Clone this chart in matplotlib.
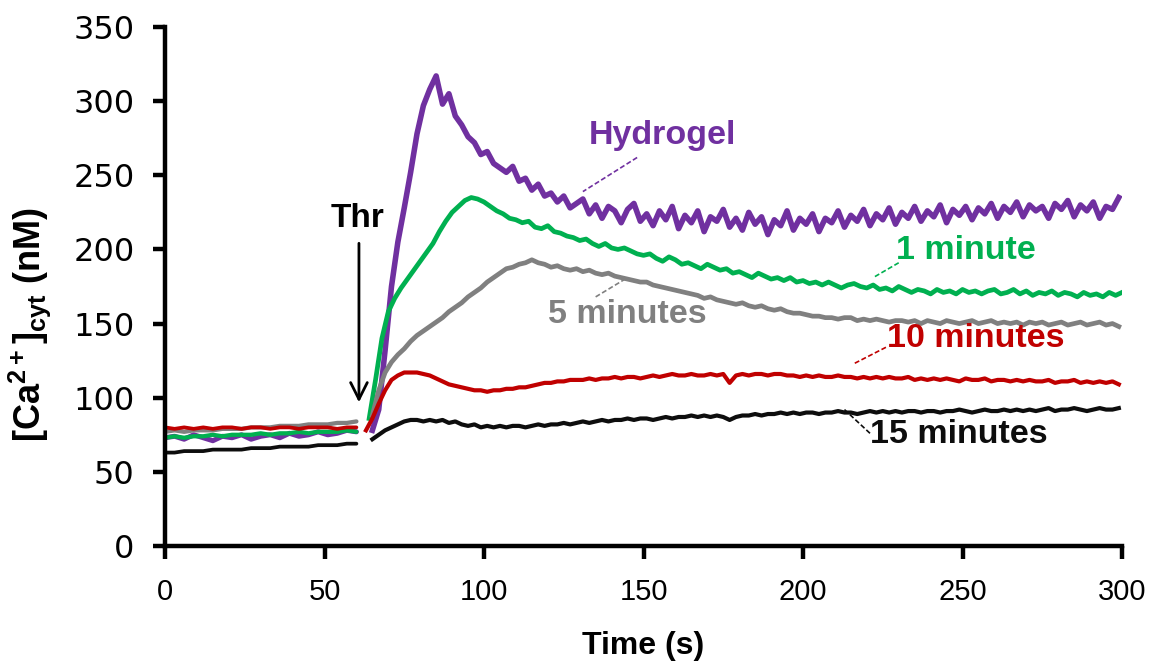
import numpy as np
import matplotlib
matplotlib.use("Agg")
import matplotlib.pyplot as plt

plt.rcParams['mathtext.fontset'] = 'custom'
plt.rcParams['mathtext.bf'] = 'Liberation Sans:bold'
plt.rcParams['mathtext.rm'] = 'Liberation Sans'

# ---------------- data ----------------
series_names = ["Hydrogel", "1 minute", "5 minutes", "10 minutes", "15 minutes"]
colors = ["#7030A0", "#00B050", "#808080", "#C00000", "#0D0D0D"]

# baseline before thrombin, every 3 s from 0 to 60 s
pre_step = 3
hydrogel_pre = [73, 74, 72, 75, 73, 71, 74, 73, 75, 72, 74, 75, 73, 76, 74, 75, 77, 75, 76, 78, 77]
min1_pre = [73, 74, 73, 74, 74, 75, 74, 75, 75, 75, 76, 75, 76, 76, 77, 76, 77, 77, 77, 78, 77]
min5_pre = [77, 78, 77, 78, 78, 78, 79, 79, 79, 80, 80, 80, 81, 81, 81, 82, 82, 82, 83, 83, 84]
min10_pre = [80, 79, 80, 79, 80, 79, 80, 80, 79, 80, 80, 79, 80, 80, 79, 80, 80, 80, 79, 80, 80]
min15_pre = [63, 63, 64, 64, 64, 65, 65, 65, 65, 66, 66, 66, 67, 67, 67, 67, 68, 68, 68, 69, 69]

# after thrombin, every 2 s from the given start time
post_step = 2
hydrogel_start = 65
hydrogel_post = [
    78, 92, 132, 175, 205, 228, 252, 278, 297, 308,
    317, 298, 305, 290, 284, 276, 272, 264, 266, 258,
    255, 252, 256, 246, 248, 240, 244, 236, 238, 232,
    236, 228, 231, 234, 224, 230, 221, 229, 226, 218,
    227, 231, 219, 224, 216, 226, 220, 229, 214, 223,
    218, 226, 212, 222, 219, 227, 215, 221, 213, 225,
    217, 222, 210, 220, 216, 226, 213, 221, 217, 224,
    212, 221, 218, 226, 215, 223, 219, 227, 216, 224,
    220, 228, 217, 225, 221, 229, 219, 226, 222, 230,
    218, 227, 223, 229, 220, 228, 224, 231, 221, 229,
    225, 232, 222, 230, 226, 229, 221, 231, 227, 233,
    222, 230, 226, 232, 221, 229, 227, 235]
min1_start = 64
min1_post = [
    86, 112, 140, 158, 167, 174, 180, 186, 192, 198,
    204, 212, 219, 225, 229, 233, 235, 234, 232, 229,
    226, 224, 221, 220, 218, 219, 215, 214, 216, 212,
    211, 209, 208, 206, 207, 204, 202, 204, 201, 200,
    201, 199, 197, 196, 197, 194, 192, 195, 193, 190,
    191, 189, 187, 190, 188, 186, 187, 184, 185, 183,
    181, 184, 182, 180, 181, 179, 181, 178, 179, 177,
    178, 176, 178, 176, 174, 176, 177, 175, 174, 176,
    173, 174, 172, 175, 173, 171, 173, 172, 170, 173,
    171, 172, 170, 173, 171, 172, 170, 172, 173, 170,
    171, 173, 170, 172, 169, 171, 170, 172, 169, 171,
    170, 168, 171, 169, 170, 168, 171, 169, 171]
min5_start = 65
min5_post = [
    88, 105, 117, 124, 129, 133, 138, 142, 145, 148,
    151, 154, 158, 161, 164, 168, 171, 174, 178, 181,
    184, 187, 188, 190, 191, 193, 191, 190, 188, 189,
    187, 186, 187, 185, 186, 184, 183, 184, 182, 181,
    180, 179, 178, 178, 176, 175, 174, 173, 172, 171,
    170, 169, 167, 168, 166, 165, 164, 163, 164, 162,
    161, 162, 160, 159, 160, 158, 157, 157, 156, 155,
    155, 154, 154, 153, 154, 154, 152, 153, 152, 153,
    152, 151, 152, 152, 151, 152, 150, 152, 151, 150,
    152, 151, 150, 151, 152, 150, 151, 152, 150, 151,
    150, 151, 149, 151, 150, 151, 149, 150, 151, 149,
    150, 151, 149, 150, 151, 149, 150, 148]
min10_start = 63
min10_post = [
    78, 86, 96, 105, 112, 115, 117, 117, 117, 116,
    115, 113, 111, 109, 108, 107, 106, 105, 105, 104,
    105, 105, 106, 106, 107, 107, 108, 109, 110, 110,
    111, 111, 112, 112, 112, 113, 112, 113, 113, 114,
    113, 114, 114, 113, 114, 115, 114, 115, 116, 115,
    115, 116, 115, 115, 116, 115, 116, 110, 115, 116,
    115, 116, 116, 115, 116, 116, 115, 115, 114, 115,
    114, 115, 114, 114, 115, 114, 114, 113, 114, 113,
    114, 113, 114, 113, 113, 114, 112, 113, 112, 113,
    112, 113, 112, 111, 113, 112, 112, 113, 111, 112,
    112, 111, 112, 111, 112, 111, 111, 112, 110, 111,
    111, 112, 110, 111, 110, 111, 110, 111, 109]
min15_start = 65
min15_post = [
    72, 75, 78, 80, 82, 84, 85, 85, 84, 85,
    84, 85, 83, 84, 82, 81, 82, 80, 81, 80,
    81, 80, 81, 81, 80, 81, 82, 81, 82, 82,
    83, 82, 83, 84, 83, 84, 85, 84, 85, 85,
    86, 85, 86, 86, 85, 86, 87, 86, 87, 87,
    88, 87, 88, 87, 88, 87, 85, 87, 88, 88,
    89, 88, 89, 89, 90, 89, 90, 89, 90, 90,
    89, 90, 90, 91, 90, 90, 89, 90, 91, 90,
    91, 90, 91, 90, 91, 91, 90, 91, 91, 90,
    91, 91, 92, 91, 90, 91, 92, 91, 91, 92,
    91, 92, 91, 92, 91, 92, 93, 91, 92, 92,
    93, 92, 91, 92, 93, 92, 92, 93]

pre_list = [hydrogel_pre, min1_pre, min5_pre, min10_pre, min15_pre]
post_list = [hydrogel_post, min1_post, min5_post, min10_post, min15_post]
start_list = [hydrogel_start, min1_start, min5_start, min10_start, min15_start]

x_ticks = [0, 50, 100, 150, 200, 250, 300]
y_ticks = [0, 50, 100, 150, 200, 250, 300, 350]

# label positions (data coords): text centre, leader start, leader end
label_pos = [(156, 277), (251, 199), (145, 156), (254, 140), (249, 75)]
leader_from = [(148, 262), (230, 191), (135, 168), (226, 134), (221, 76)]
leader_to = [(131, 239), (222, 181), (145, 181), (216, 123), (213, 92)]

# ---------------- figure ----------------
fig = plt.figure(figsize=(11.63, 6.69), dpi=100)
ax = fig.add_axes([165 / 1163, 1 - 546 / 669, (1122 - 165) / 1163, (546 - 27) / 669])

lws = [4.0, 3.4, 3.4, 3.0, 3.0]
order = [0, 1, 3, 2, 4]
for i in order:
    pre = pre_list[i]
    post = post_list[i]
    t_pre = pre_step * np.arange(len(pre))
    t_post = start_list[i] + post_step * np.arange(len(post))
    ax.plot(t_pre, pre, color=colors[i], lw=lws[i] * 0.9, solid_capstyle='round', zorder=2 + i * 0.1)
    ax.plot(t_post, post, color=colors[i], lw=lws[i], solid_joinstyle='round', zorder=2 + i * 0.1)

for i in range(5):
    ax.text(label_pos[i][0], label_pos[i][1], series_names[i], color=colors[i],
            fontsize=24.5, fontweight='bold', family='Liberation Sans', ha='center', va='center')
    ax.plot([leader_from[i][0], leader_to[i][0]], [leader_from[i][1], leader_to[i][1]],
            color=colors[i], lw=1.2, ls=(0, (3, 1.5)), zorder=5)

# Thrombin arrow
ax.text(60.5, 221, "Thr", fontsize=24, fontweight='bold', family='Liberation Sans',
        ha='center', va='center', color='black')
ax.annotate("", xy=(60.8, 95), xytext=(60.8, 206),
            arrowprops=dict(arrowstyle='->', color='black', lw=2.0, mutation_scale=30))

ax.set_xlim(0, 300)
ax.set_ylim(0, 350)
ax.set_xticks(x_ticks)
ax.set_yticks(y_ticks)
ax.set_xticklabels([str(v) for v in x_ticks], family='Liberation Sans', fontsize=21)
ax.set_yticklabels([str(v) for v in y_ticks], family='DejaVu Sans', fontsize=23)
for s in ['top', 'right']:
    ax.spines[s].set_visible(False)
for s in ['left', 'bottom']:
    ax.spines[s].set_linewidth(3.2)
ax.tick_params(axis='both', direction='out', length=9, width=3.2, colors='black')
ax.tick_params(axis='y', pad=13)
ax.tick_params(axis='x', pad=14)

fig.text(643 / 1163, 1 - 646 / 669, "Time (s)", family='Liberation Sans',
         fontweight='bold', fontsize=23, ha='center', va='center')
fig.text(30 / 1163, 1 - 325 / 669, r"[Ca$^{\mathbf{2+}}$]$_{\mathbf{cyt}}$ (nM)",
         family='Liberation Sans', fontweight='bold', fontsize=26, rotation=90,
         ha='center', va='center')

fig.savefig("out.png", dpi=100)
